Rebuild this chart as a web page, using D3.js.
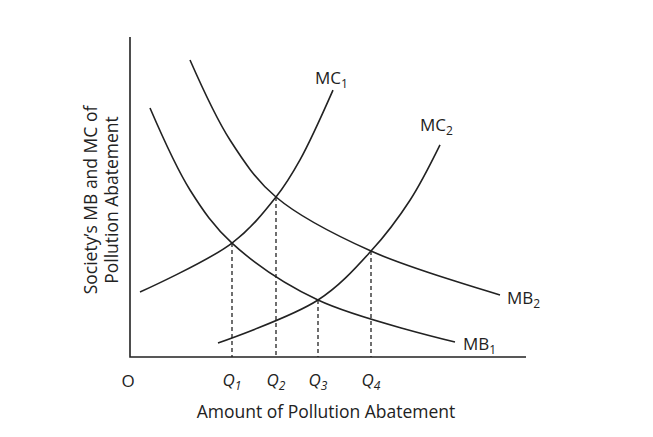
<!DOCTYPE html>
<html><head><meta charset="utf-8">
<script src="https://cdn.jsdelivr.net/npm/d3@7"></script>
<style>body{margin:0;background:#fff}text{font-family:"Open Sans",Arial,sans-serif;fill:#222}</style>
</head><body>
<svg id="c" width="653" height="437"></svg>
<script>
var mc1 = [[2.5,20.3],[25.5,35.6],[36.5,50],[42.5,61.6],[50.75,83.4]];
var mc2 = [[22,4.4],[47,17.8],[60.25,33.1],[70,49],[77.5,66.3]];
var mb1 = [[5,77.8],[15,52.2],[25.5,35.6],[47,17.8],[81.25,4.7]];
var mb2 = [[15,92.8],[25,67.8],[36.5,50],[60.25,33.1],[92.5,19.4]];
var qs = [[25.5,35.6,"1"],[36.5,50,"2"],[47,17.8,"3"],[60.25,33.1,"4"]];
var curveLabels = [["MC","1",mc1[4],-18,-6],["MC","2",mc2[4],-20,-14],["MB","2",mb2[4],7,9],["MB","1",mb1[4],8,8]];

var svg = d3.select("#c");
var x = d3.scaleLinear().domain([0,100]).range([130,530]);
var y = d3.scaleLinear().domain([0,100]).range([357,37]);
var line = d3.line().x(function(d){return x(d[0]);}).y(function(d){return y(d[1]);}).curve(d3.curveCatmullRom);

svg.append("path").attr("d","M"+x(0)+","+y(100)+"V"+y(0)+"H"+x(99)).attr("fill","none").attr("stroke","#222").attr("stroke-width",1.6);

[mc1,mc2,mb1,mb2].forEach(function(s){
  svg.append("path").attr("d",line(s)).attr("fill","none").attr("stroke","#222").attr("stroke-width",1.6);
});

qs.forEach(function(q){
  svg.append("line").attr("x1",x(q[0])).attr("x2",x(q[0])).attr("y1",y(q[1])).attr("y2",y(0))
    .attr("stroke","#222").attr("stroke-width",1.3).attr("stroke-dasharray","4,3");
  var t = svg.append("text").attr("x",x(q[0])).attr("y",386).attr("text-anchor","middle").attr("font-size",17);
  t.append("tspan").attr("font-style","italic").text("Q");
  t.append("tspan").attr("font-style","italic").attr("font-size",12).attr("dy",4).text(q[2]);
});

curveLabels.forEach(function(l){
  var t = svg.append("text").attr("x",x(l[2][0])+l[3]).attr("y",y(l[2][1])+l[4]).attr("font-size",17);
  t.append("tspan").text(l[0]);
  t.append("tspan").attr("font-size",12).attr("dy",4).text(l[1]);
});

svg.append("text").attr("x",128).attr("y",387).attr("text-anchor","middle").attr("font-size",17).text("O");
svg.append("text").attr("x",326).attr("y",418).attr("text-anchor","middle").attr("font-size",17.5).text("Amount of Pollution Abatement");
var yl = svg.append("text").attr("transform","translate(97,200) rotate(-90)").attr("text-anchor","middle").attr("font-size",17.5);
yl.append("tspan").attr("x",0).attr("dy",0).text("Society’s MB and MC of");
yl.append("tspan").attr("x",0).attr("dy",21).text("Pollution Abatement");
</script>
</body></html>
